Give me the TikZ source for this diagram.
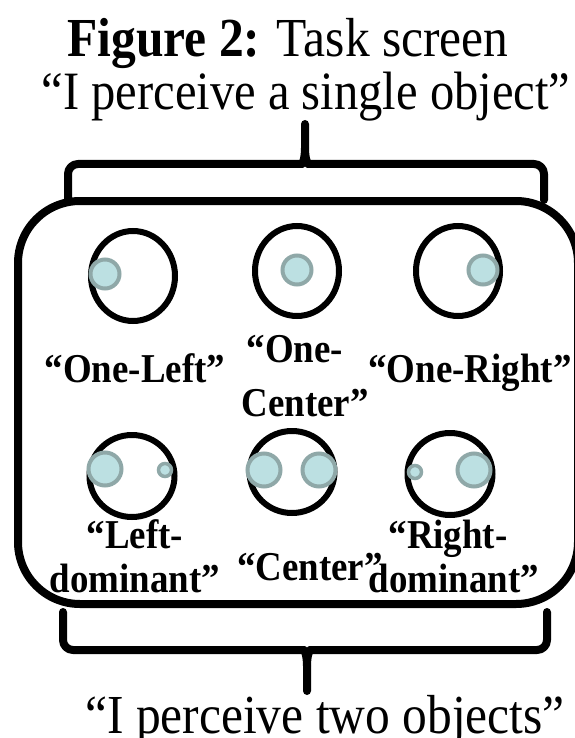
\documentclass[tikz,border=0pt]{standalone}
\usepackage{fontspec}
\setmainfont{Liberation Serif}[FakeStretch=0.9]
\usetikzlibrary{shapes.geometric}
\definecolor{dotfill}{RGB}{188,224,226}
\definecolor{dotedge}{RGB}{143,168,168}
\begin{document}
\begin{tikzpicture}[x=1pt,y=-1pt,
  screenbox/.style={draw, line width=8pt, rounded corners=62pt, inner sep=0pt},
  bracepath/.style={line width=8pt, line join=round, line cap=round},
  ring/.style={draw, ellipse, line width=6pt, inner sep=0pt},
  bigdot/.style={circle, fill=dotfill, draw=dotedge, line width=4pt, minimum size=29pt, inner sep=0pt},
  smalldot/.style={circle, fill=dotfill, draw=dotedge, line width=3.5pt, minimum size=13pt, inner sep=0pt},
  lab/.style={font=\fontsize{41}{48}\selectfont\bfseries, anchor=base, inner sep=0pt},
  big/.style={font=\fontsize{54}{62}\selectfont, anchor=base, inner sep=0pt}]
\useasboundingbox (0,0) rectangle (574,738);

% texts
\node[big, font=\fontsize{55}{64}\selectfont] (title) at (288,57) {\textbf{Figure 2:} Task screen};
\node[big] (single) at (306,110) {“I perceive a single object”};
\node[big, font=\fontsize{55}{64}\selectfont] (two) at (325,733) {“I perceive two objects”};

% screen
\node[screenbox, minimum width=560pt, minimum height=403pt] (screen) at (298,402.5) {};

% top brace
\coordinate (tl) at (68,200);
\coordinate (tr) at (544,200);
\coordinate (ttip) at (305,124);
\draw[bracepath] (tl) [rounded corners=10pt] -- (68,164) -- (292,164) [sharp corners]
   .. controls (302,164) and (305,160) .. (305,148) -- (ttip);
\draw[bracepath] (tr) [rounded corners=10pt] -- (544,164) -- (318,164) [sharp corners]
   .. controls (308,164) and (305,160) .. (305,148);

% bottom brace
\coordinate (bl) at (63,612);
\coordinate (br) at (547,612);
\coordinate (btip) at (307,691);
\draw[bracepath] (bl) [rounded corners=10pt] -- (63,650) -- (294,650) [sharp corners]
   .. controls (304,650) and (307,654) .. (307,666) -- (btip);
\draw[bracepath] (br) [rounded corners=10pt] -- (547,650) -- (320,650) [sharp corners]
   .. controls (310,650) and (307,654) .. (307,666);

% row 1 rings
\node[ring, minimum width=84pt, minimum height=90pt] (r1) at (133,276) {};
\node[ring, minimum width=84pt, minimum height=90pt] (r2) at (297,271) {};
\node[ring, minimum width=84pt, minimum height=90pt] (r3) at (458,271) {};
\node[bigdot] (d1) at (105,274) {};
\node[bigdot] (d2) at (297,270) {};
\node[bigdot] (d3) at (483,270) {};

% row 2 rings
\node[ring, minimum width=85pt, minimum height=82pt] (r4) at (132,476) {};
\node[ring, minimum width=85pt, minimum height=82pt] (r5) at (292,472) {};
\node[ring, minimum width=85pt, minimum height=82pt] (r6) at (450,474) {};
\node[bigdot, minimum size=33pt] (d4) at (105,469) {};
\node[smalldot] (d5) at (165,470) {};
\node[bigdot, minimum size=33pt] (d6) at (264,470) {};
\node[bigdot, minimum size=33pt] (d7) at (319,470) {};
\node[smalldot] (d8) at (415,472) {};
\node[bigdot, minimum size=33pt] (d9) at (474,470) {};

% labels row 1
\node[lab] (l1) at (135,382) {“One-Left”};
\node[lab] (l2a) at (295,362) {“One-};
\node[lab] (l2b) at (305,416) {Center”};
\node[lab] (l3) at (470,382) {“One-Right”};

% labels row 2
\node[lab] (l4a) at (135,548) {“Left-};
\node[lab] (l4b) at (135,592) {dominant”};
\node[lab] (l5) at (310,580) {“Center”};
\node[lab] (l6a) at (448,548) {“Right-};
\node[lab] (l6b) at (454,592) {dominant”};
\end{tikzpicture}
\end{document}
